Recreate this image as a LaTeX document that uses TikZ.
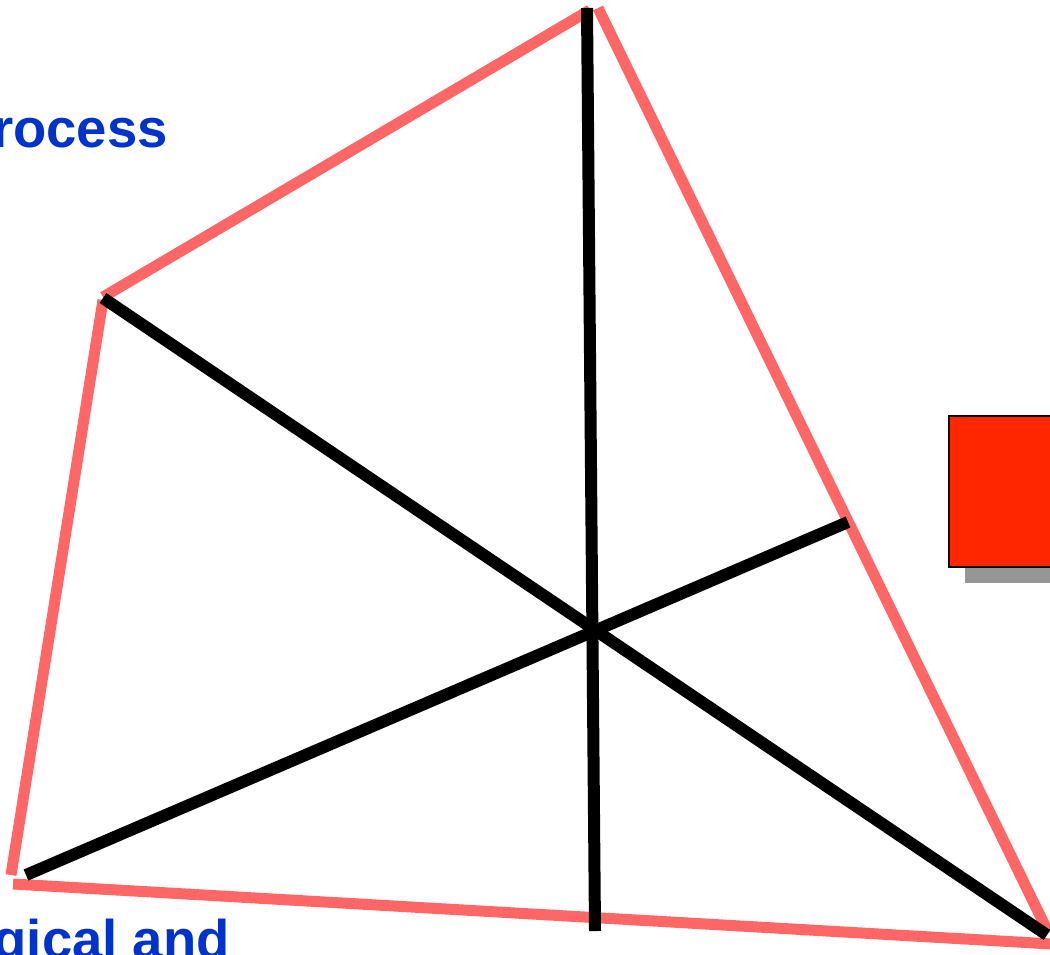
\documentclass[tikz,border=0pt]{standalone}
\usepackage{fontspec}
\setsansfont{Liberation Sans}
\usepackage{xcolor}
\definecolor{edge}{RGB}{255,102,102}
\definecolor{label}{RGB}{0,51,204}
\definecolor{block}{RGB}{255,38,0}
\definecolor{shadowgray}{RGB}{150,150,150}
\usetikzlibrary{calc}
\tikzset{
  side/.style={draw=edge,line width=11*0.02cm},
  spoke/.style={draw=black,line width=12*0.02cm},
  caption/.style={text=label,font=\sffamily\bfseries\fontsize{31}{36}\selectfont,inner sep=0pt},
}

\begin{document}
\begin{tikzpicture}[x=0.02cm,y=-0.02cm]
\useasboundingbox (0,0) rectangle (1050,954);
\clip (0,0) rectangle (1050,954);
% corners of the frame
\coordinate (top) at (592,8);
\coordinate (lft) at (103,298);
\coordinate (bl) at (12,878);
\coordinate (br) at (1048,940);
% frame
\draw[side] (103,297) -- (590,10);
\draw[side] (598,8) -- (1048,932);
\draw[side] (103,300) -- (11,875);
\draw[side] (13,884) -- (1052,944);
% spokes
\coordinate (vtop) at (587,8);
\coordinate (vbot) at (595,931);
\coordinate (mid) at (848,522);
\coordinate (low) at (26,875);
\draw[spoke] (vtop) -- (vbot);
\draw[spoke] (lft) -- (1047,935);
\draw[spoke] (low) -- (mid);
% block with shadow
\fill[shadowgray] (965,432) rectangle (1070,583);
\draw[fill=block,line width=2*0.02cm] (949,416) rectangle (1070,567);
% texts
\node[caption,anchor=base east] (proc) at (168,147) {Process};
\node[caption,anchor=base east] (bio) at (230,958) {Biological and};
\end{tikzpicture}
\end{document}
